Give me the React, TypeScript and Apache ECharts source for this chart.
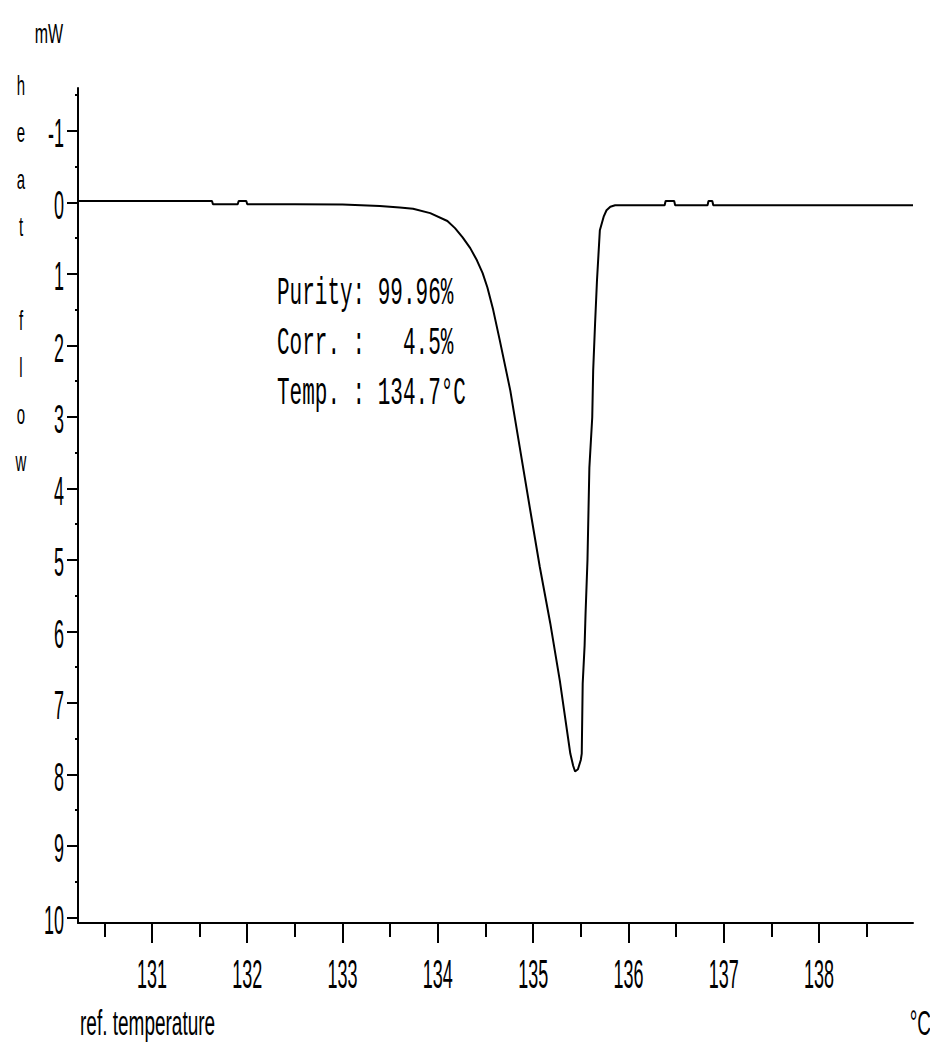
import React, { useEffect, useRef } from "react";
import * as echarts from "echarts";

// ---- data ----
const temperature = [
  130.224, 131.63, 131.64, 131.9, 131.91, 131.99, 132.0, 132.5, 133.0, 133.39,
  133.6, 133.74, 133.92, 134.1, 134.18, 134.26, 134.34, 134.41, 134.47, 134.52,
  134.58, 134.65, 134.76, 134.86, 134.97, 135.07, 135.18, 135.28, 135.39, 135.42,
  135.44, 135.47, 135.5, 135.51, 135.52, 135.54, 135.55, 135.57, 135.59, 135.62,
  135.63, 135.65, 135.67, 135.7, 135.74, 135.77, 135.81, 135.86, 136.38, 136.39,
  136.48, 136.49, 136.83, 136.84, 136.88, 136.89, 138.986,
];
const heatFlow = [
  -0.02, -0.02, 0.025, 0.025, -0.02, -0.02, 0.025, 0.025, 0.03, 0.05,
  0.07, 0.09, 0.15, 0.26, 0.36, 0.49, 0.64, 0.81, 0.99, 1.19,
  1.5, 1.93, 2.63, 3.43, 4.31, 5.1, 5.89, 6.69, 7.71, 7.88,
  7.96, 7.93, 7.8, 7.71, 6.73, 6.2, 5.75, 5.01, 3.71, 3.01,
  2.35, 1.69, 1.09, 0.39, 0.2, 0.11, 0.06, 0.04, 0.04, -0.02,
  -0.02, 0.04, 0.04, -0.02, -0.02, 0.04, 0.04,
];
const xMajorTicks = [131, 132, 133, 134, 135, 136, 137, 138];
const xMinorTicks = [130.5, 131.5, 132.5, 133.5, 134.5, 135.5, 136.5, 137.5, 138.5];
const yMajorTicks = [-1, 0, 1, 2, 3, 4, 5, 6, 7, 8, 9, 10];
const yMinorTicks = [-1.5, -0.5, 0.5, 1.5, 2.5, 3.5, 4.5, 5.5, 6.5, 7.5, 8.5, 9.5];
const annotationLines = ["Purity: 99.96%", "Corr. :   4.5%", "Temp. : 134.7°C"];
const yTitleLetters = ["h", "e", "a", "t", "", "f", "l", "o", "w"];
const unitY = "mW";
const xTitle = "ref. temperature";
const unitX = "°C";

const X_MIN = 130.224;
const X_MAX = 138.986;
const Y_MIN = -1.6;
const Y_MAX = 10.08;

const SANS = '"Liberation Sans", Arial, sans-serif';
const MONO = '"Liberation Mono", "Courier New", monospace';

export default function App() {
  const ref = useRef<HTMLDivElement>(null);

  useEffect(() => {
    if (!ref.current) return;
    const chart = echarts.init(ref.current, null, { renderer: "svg" });
    const data = temperature.map((t, i) => [t, heatFlow[i]]);
    const black = "#000";

    chart.setOption({
      animation: false,
      backgroundColor: "#fff",
      grid: { left: 78, right: 17, top: 88, bottom: 119 },
      xAxis: [
        {
          type: "value",
          min: X_MIN,
          max: X_MAX,
          position: "bottom",
          axisLine: { show: true, onZero: false, lineStyle: { color: black, width: 2 } },
          axisTick: { show: true, customValues: xMajorTicks, length: 20, lineStyle: { color: black, width: 2 } },
          axisLabel: { show: false },
          splitLine: { show: false },
        },
        {
          type: "value",
          min: X_MIN,
          max: X_MAX,
          position: "bottom",
          axisLine: { show: false, onZero: false },
          axisTick: { show: true, customValues: xMinorTicks, length: 14, lineStyle: { color: black, width: 2 } },
          axisLabel: { show: false },
          splitLine: { show: false },
        },
      ],
      yAxis: [
        {
          type: "value",
          inverse: true,
          min: Y_MIN,
          max: Y_MAX,
          position: "left",
          axisLine: { show: true, onZero: false, lineStyle: { color: black, width: 2 } },
          axisTick: { show: true, customValues: yMajorTicks, length: 11, lineStyle: { color: black, width: 2 } },
          axisLabel: { show: false },
          splitLine: { show: false },
        },
        {
          type: "value",
          inverse: true,
          min: Y_MIN,
          max: Y_MAX,
          position: "left",
          axisLine: { show: false, onZero: false },
          axisTick: { show: true, customValues: yMinorTicks, length: 3, lineStyle: { color: black, width: 2 } },
          axisLabel: { show: false },
          splitLine: { show: false },
        },
      ],
      series: [
        {
          type: "line",
          xAxisIndex: 0,
          yAxisIndex: 0,
          data,
          showSymbol: false,
          symbol: "none",
          silent: true,
          lineStyle: { color: black, width: 2 },
        },
      ],
    });

    const toPx = (x: number, y: number) =>
      chart.convertToPixel({ seriesIndex: 0 }, [x, y]) as number[];

    const tallText = (
      text: string,
      x: number,
      y: number,
      fontSize: number,
      scaleY: number,
      align: string,
      family: string = SANS
    ) => ({
      type: "text",
      x,
      y,
      scaleY,
      silent: true,
      style: {
        text,
        fontSize,
        fontFamily: family,
        fill: black,
        textAlign: align,
        textVerticalAlign: "middle",
      },
    });

    const elements: any[] = [];
    // tick labels, positioned through the axes' own scales
    yMajorTicks.forEach((v) => {
      const [px, py] = toPx(X_MIN, v);
      elements.push(tallText(String(v), px - 14, py + 2, 18, 2.3, "right"));
    });
    xMajorTicks.forEach((v) => {
      const [px, py] = toPx(v, Y_MAX);
      elements.push(tallText(String(v), px, py + 51, 18, 2.3, "center"));
    });
    // unit + axis titles
    elements.push(tallText(unitY, 49, 33, 16, 1.75, "center"));
    yTitleLetters.forEach((ch, i) => {
      if (ch) elements.push(tallText(ch, 21, 85 + 47 * i, 15, 1.9, "center"));
    });
    elements.push(tallText(xTitle, 80, 1023, 19, 1.8, "left"));
    elements.push(tallText(unitX, 931, 1023, 19, 1.8, "right"));
    // annotation
    annotationLines.forEach((line, i) => {
      elements.push(tallText(line, 277, 293 + 50 * i, 21, 1.83, "left", MONO));
    });

    chart.setOption({ graphic: { elements } });

    return () => chart.dispose();
  }, []);

  return (
    <div
      ref={ref}
      style={{ position: "absolute", left: 0, top: 0, width: 930, height: 1042 }}
    />
  );
}
